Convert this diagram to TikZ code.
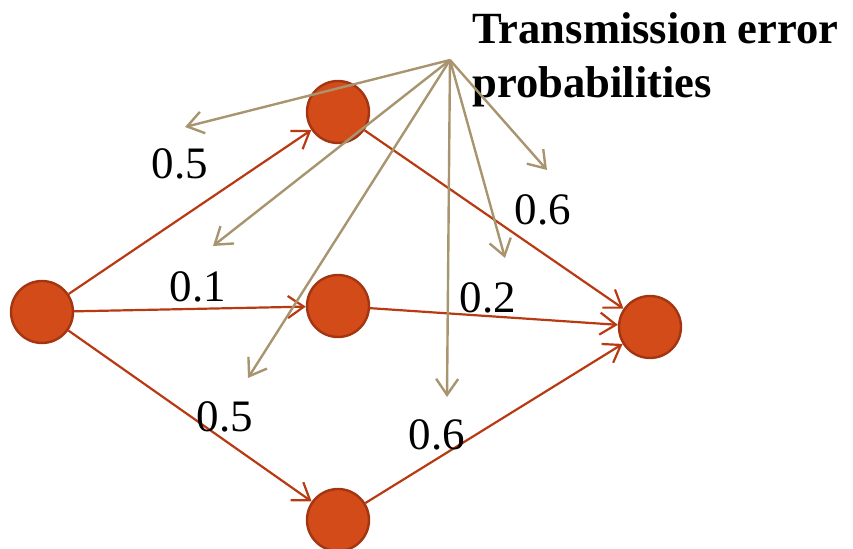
\documentclass[tikz,border=0pt]{standalone}
\usepackage{fontspec}
\setmainfont{Liberation Serif}
\usetikzlibrary{automata,positioning,arrows.meta}
\definecolor{nodered}{HTML}{D24B19}
\definecolor{nodeedge}{HTML}{A43512}
\definecolor{linkred}{HTML}{B73A12}
\definecolor{errtan}{HTML}{A8956F}

\begin{document}
\begin{tikzpicture}[x=0.5pt,y=-0.5pt,->,>={Straight Barb[length=8pt,width=11pt]},
   every state/.style={circle,fill=nodered,draw=nodeedge,line width=1.2pt,minimum size=31pt,inner sep=0pt},
   link/.style={draw=linkred,line width=1.1pt},
   err/.style={draw=errtan,line width=1.2pt},
   lbl/.style={font=\fontsize{22.5}{27}\selectfont,inner sep=0pt}]
  \useasboundingbox (0,0) rectangle (853,549);
  \node[state] (s) at (42,312) {};
  \node[state] (top) at (338,112) {};
  \node[state] (mid) at (338,306) {};
  \node[state] (bot) at (338,520) {};
  \node[state] (t) at (650,327) {};
  \path
   (s) edge[link] (top)
   (s) edge[link] (mid)
   (s) edge[link] (bot)
   (top) edge[link] (t)
   (mid) edge[link] (t)
   (bot) edge[link] (t);
  \node[lbl] at (180,164) {0.5};
  \node[lbl] at (198,287) {0.1};
  \node[lbl] at (225,417) {0.5};
  \node[lbl] at (543,210) {0.6};
  \node[lbl] at (488,298) {0.2};
  \node[lbl] at (437,435) {0.6};
  % error probabilities
  \node[lbl,font=\fontsize{22.3}{27}\selectfont\bfseries,align=left,anchor=base west] (note) at (472,98)
   {Transmission error\\probabilities};
  \coordinate (src) at (450,60);
  \coordinate (e1) at (185,127);
  \coordinate (e2) at (213,246);
  \coordinate (e3) at (248,378);
  \coordinate (e4) at (447,397);
  \coordinate (e5) at (505,258);
  \coordinate (e6) at (547,170);
  \foreach \i in {1,...,6}
    \draw[err] (src) -- (e\i);
\end{tikzpicture}
\end{document}
